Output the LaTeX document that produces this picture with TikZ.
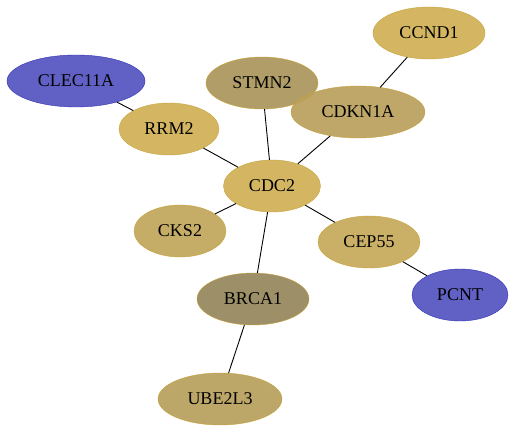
\documentclass[tikz,border=0pt]{standalone}
\usepackage{fontspec}
\setmainfont{Liberation Serif}
\usetikzlibrary{shapes.geometric}
\definecolor{gold}{HTML}{D0B055}
\definecolor{goldline}{HTML}{C8A33A}
\definecolor{olive}{HTML}{AA955A}
\definecolor{khaki}{HTML}{B8A05B}
\definecolor{sand}{HTML}{C0A65B}
\definecolor{wheat}{HTML}{C6A95A}
\definecolor{mud}{HTML}{95865A}
\definecolor{tan}{HTML}{B69E5B}
\definecolor{violet}{HTML}{5454C0}
\definecolor{violetline}{HTML}{3030BA}
\begin{document}
\begin{tikzpicture}[x=1pt,y=-1pt,
    gene/.style={ellipse,draw=goldline,fill=gold,fill opacity=0.92,text opacity=1,inner sep=0pt,minimum height=52pt,font=\fontsize{18}{20}\selectfont},
    probe/.style={gene,draw=violetline,fill=violet},
    link/.style={line width=0.9pt}]
        \useasboundingbox (0,0) rectangle (515,433);
        \node[gene,minimum width=112pt] (ccnd1) at (429,33) {CCND1};
        \node[probe,minimum width=138pt] (clec) at (76,81) {CLEC11A};
        \node[gene,fill=olive,minimum width=112pt] (stmn2) at (262,83) {STMN2};
        \node[gene,fill=khaki,minimum width=134pt] (cdkn) at (358,112) {CDKN1A};
        \node[gene,minimum width=100pt] (rrm2) at (169,129) {RRM2};
        \node[gene,minimum width=97pt] (cdc2) at (272,186) {CDC2};
        \node[gene,fill=sand,minimum width=92pt] (cks2) at (180,231) {CKS2};
        \node[gene,fill=wheat,minimum width=102pt] (cep55) at (369,242) {CEP55};
        \node[probe,minimum width=96pt] (pcnt) at (460,295) {PCNT};
        \node[gene,fill=mud,minimum width=112pt] (brca1) at (253,299) {BRCA1};
        \node[gene,fill=tan,minimum width=124pt] (ube) at (220,399) {UBE2L3};
        \draw[link] (clec) -- (rrm2);
        \draw[link] (rrm2) -- (cdc2);
        \draw[link] (stmn2) -- (cdc2);
        \draw[link] (cdkn) -- (cdc2);
        \draw[link] (ccnd1) -- (cdkn);
        \draw[link] (cks2) -- (cdc2);
        \draw[link] (cep55) -- (cdc2);
        \draw[link] (cep55) -- (pcnt);
        \draw[link] (brca1) -- (cdc2);
        \draw[link] (brca1) -- (ube);
\end{tikzpicture}
\end{document}
